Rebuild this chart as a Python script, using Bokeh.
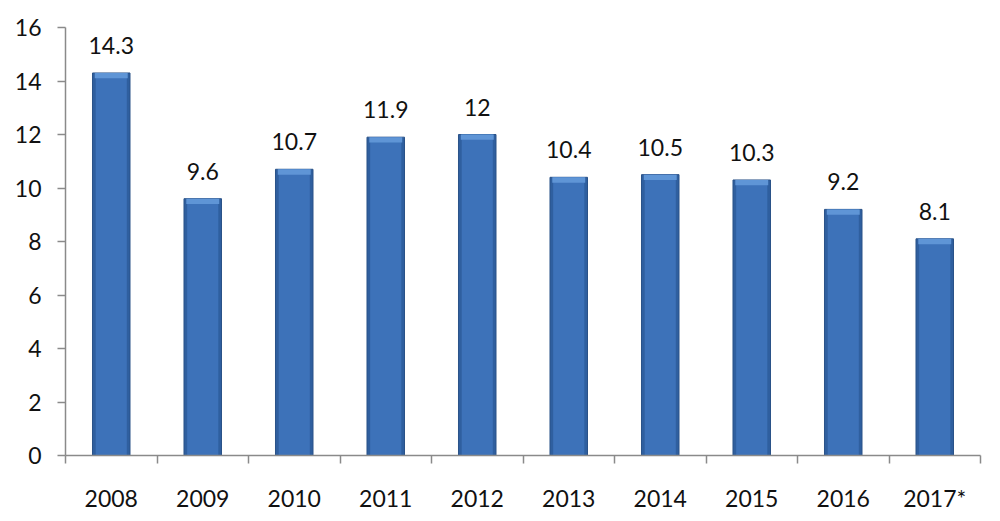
from bokeh.plotting import figure
from bokeh.models import ColumnDataSource, FixedTicker, Range1d
from bokeh.embed import file_html
from bokeh.resources import INLINE
from bokeh.core.properties import value

categories = ["2008", "2009", "2010", "2011", "2012", "2013", "2014", "2015", "2016", "2017*"]
values = [14.3, 9.6, 10.7, 11.9, 12, 10.4, 10.5, 10.3, 9.2, 8.1]
labels = [f"{v:g}" for v in values]
y_ticks = [0, 2, 4, 6, 8, 10, 12, 14, 16]

xs = [i + 0.5 for i in range(len(categories))]
src = ColumnDataSource(dict(x=xs, top=values, label=labels,
                            bevel=[v - 0.2 for v in values]))

FONT = "Lato"

p = figure(output_backend="svg", toolbar_location=None,
           frame_width=915, frame_height=428,
           min_border_left=65, min_border_top=27, min_border_right=12, min_border_bottom=58,
           x_range=Range1d(0, len(categories)), y_range=Range1d(0, 16))
p.outline_line_color = None
p.xgrid.grid_line_color = None
p.ygrid.grid_line_color = None
p.background_fill_color = "white"
p.border_fill_color = "white"

# bars
p.vbar(x="x", top="top", bottom=0, width=0.41, source=src,
       fill_color="#2f5f9f", line_color="#2a5288", line_width=1)
p.vbar(x="x", top="top", bottom=0, width=0.34, source=src,
       fill_color="#3d72b9", line_color=None)
p.vbar(x="x", top="top", bottom="bevel", width=0.36, source=src,
       fill_color="#5f95d6", line_color=None)

p.text(x="x", y="top", text="label", source=src, text_align="center",
       text_baseline="bottom", y_offset=-19, text_font=value(FONT),
       text_font_size="23px", text_color="#111111")

# x axis: labels at centres, tick marks at boundaries
p.xaxis.ticker = FixedTicker(ticks=xs, minor_ticks=list(range(len(categories) + 1)))
p.xaxis.major_label_overrides = {x: c for x, c in zip(xs, categories)}
p.xaxis.major_tick_out = 0
p.xaxis.major_tick_in = 0
p.xaxis.minor_tick_out = 8
p.xaxis.minor_tick_in = 0
p.xaxis.minor_tick_line_color = "#8a8a8a"
p.xaxis.minor_tick_line_width = 1.5
p.xaxis.major_label_standoff = 20

p.yaxis.ticker = FixedTicker(ticks=y_ticks)
p.yaxis.minor_tick_line_color = None
p.yaxis.major_tick_out = 8
p.yaxis.major_tick_in = 0
p.yaxis.major_label_standoff = 16

for ax in (p.xaxis, p.yaxis):
    ax.axis_line_color = "#8a8a8a"
    ax.axis_line_width = 1.5
    ax.major_tick_line_color = "#8a8a8a"
    ax.major_tick_line_width = 1.5
    ax.major_label_text_font = FONT
    ax.major_label_text_font_size = "23px"
    ax.major_label_text_color = "#111111"

open("out.html", "w").write(file_html(p, INLINE))
